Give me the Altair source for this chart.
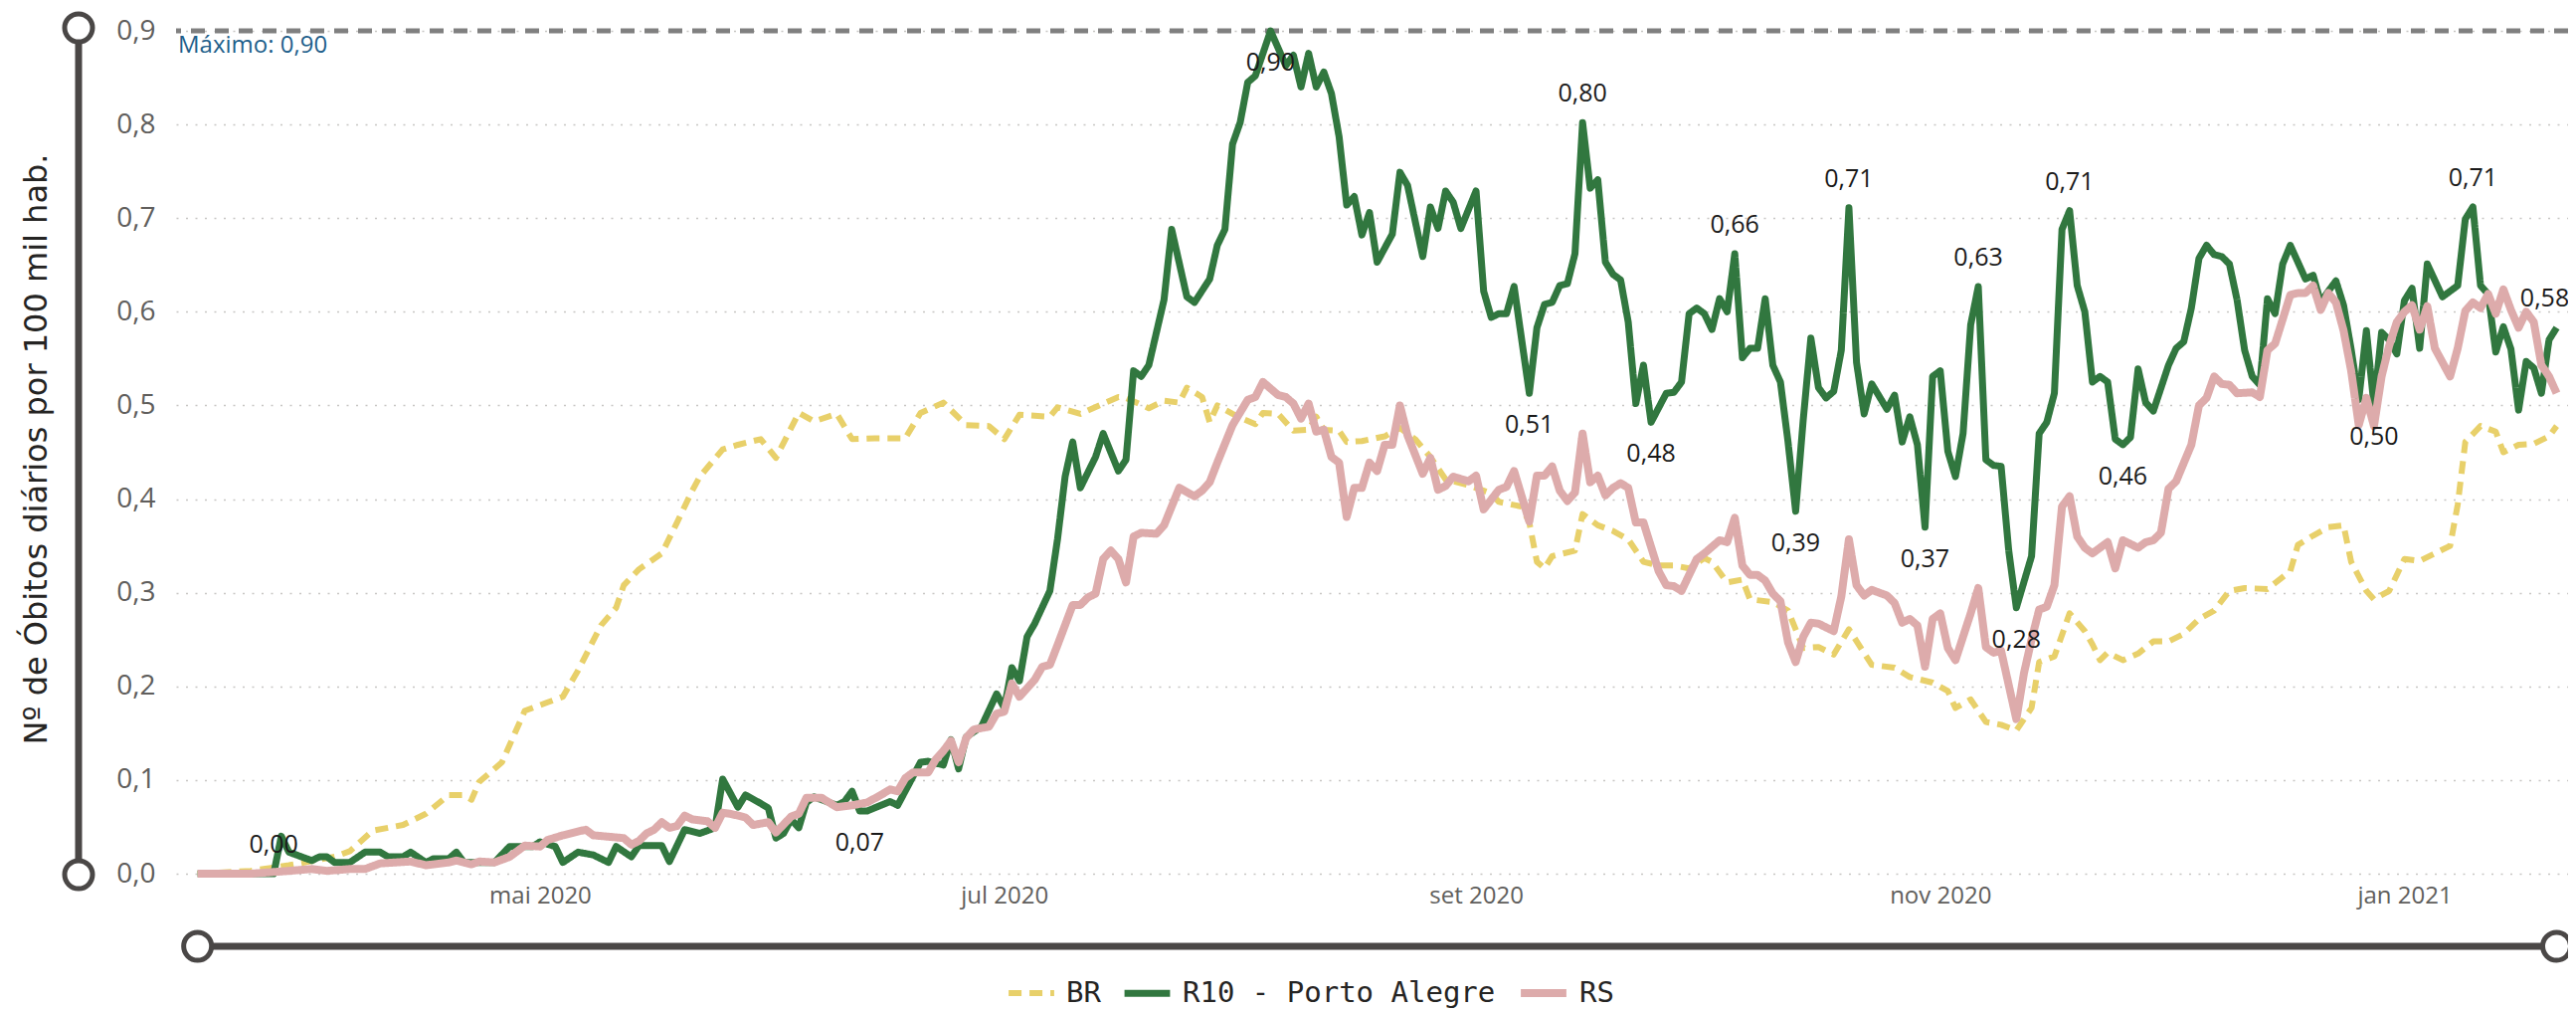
import altair as alt
import pandas as pd

START = pd.Timestamp("2020-03-17")
SERIES = ["BR", "R10 - Porto Alegre", "RS"]
COLORS = ["#E8D06A", "#31773F", "#DDABAB"]

BR_DAYS = [0, 7, 12, 18, 20, 23, 27, 30, 33, 35, 36, 37, 40, 43, 46, 48, 50, 53, 55, 56, 58, 61, 63, 65, 66, 69, 71, 74, 76, 79,
           81, 84, 86, 89, 93, 95, 98, 101, 104, 106, 108, 112, 113, 116, 119, 121, 122, 125, 127, 129, 130, 132, 133, 134, 136,
           137, 139, 140, 142, 144, 146, 147, 148, 150, 151, 153, 156, 158, 160, 162, 164, 167, 170, 171, 174, 175, 176, 177, 178,
           181, 182, 184, 186, 188, 190, 192, 194, 196, 198, 199, 201, 203, 204, 207, 209, 211, 213, 215, 217, 220, 223, 225, 228,
           230, 231, 233, 235, 237, 239, 241, 242, 244, 246, 248, 249, 250, 251, 253, 255, 257, 259, 261, 263, 265, 267, 269, 272,
           275, 276, 278, 280, 282, 283, 285, 286, 288, 290, 292, 294, 296, 297, 298, 300, 302, 303, 305, 307, 309, 310]
BR_VALS = [0.0, 0.003, 0.009, 0.018, 0.024, 0.046, 0.052, 0.064, 0.084, 0.084, 0.079, 0.098, 0.119, 0.174, 0.183, 0.189, 0.217,
           0.265, 0.284, 0.308, 0.325, 0.342, 0.375, 0.409, 0.424, 0.453, 0.458, 0.464, 0.444, 0.492, 0.483, 0.491, 0.464, 0.465,
           0.465, 0.492, 0.503, 0.479, 0.478, 0.464, 0.490, 0.488, 0.498, 0.491, 0.502, 0.509, 0.508, 0.497, 0.505, 0.503, 0.519,
           0.509, 0.482, 0.500, 0.491, 0.487, 0.480, 0.492, 0.491, 0.473, 0.474, 0.488, 0.474, 0.473, 0.461, 0.462, 0.467, 0.476,
           0.464, 0.445, 0.421, 0.415, 0.406, 0.397, 0.392, 0.375, 0.333, 0.326, 0.339, 0.345, 0.384, 0.372, 0.366, 0.357, 0.333,
           0.329, 0.329, 0.326, 0.337, 0.333, 0.311, 0.314, 0.293, 0.290, 0.281, 0.241, 0.242, 0.234, 0.261, 0.223, 0.220, 0.210,
           0.204, 0.195, 0.177, 0.186, 0.162, 0.159, 0.153, 0.177, 0.226, 0.232, 0.278, 0.259, 0.245, 0.228, 0.236, 0.228, 0.235,
           0.248, 0.248, 0.256, 0.272, 0.281, 0.302, 0.305, 0.304, 0.323, 0.351, 0.361, 0.370, 0.372, 0.333, 0.302, 0.293, 0.302,
           0.336, 0.334, 0.342, 0.350, 0.394, 0.461, 0.478, 0.472, 0.450, 0.458, 0.459, 0.467, 0.478]

R10_DAYS = [0, 7, 10, 11, 12, 15, 16, 17, 18, 20, 22, 24, 25, 27, 28, 30, 31, 33, 34, 35, 39, 41, 44, 45, 47, 48, 50, 52, 54, 55,
            57, 58, 61, 62, 64, 66, 68, 69, 71, 72, 74, 75, 76, 77, 78, 79, 80, 81, 84, 85, 86, 87, 88, 91, 92, 95, 96, 98, 99,
            100, 101, 103, 105, 106, 107, 108, 109, 110, 112, 113, 114, 115, 116, 118, 119, 121, 122, 123, 124, 125, 127, 128,
            130, 131, 133, 134, 135, 136, 137, 138, 139, 141, 143, 144, 145, 146, 147, 148, 149, 150, 151, 152, 153, 154, 155,
            157, 158, 159, 161, 162, 163, 164, 165, 166, 168, 169, 170, 171, 172, 173, 175, 176, 177, 178, 179, 180, 181, 182,
            183, 184, 185, 186, 187, 188, 189, 190, 191, 193, 194, 195, 196, 197, 198, 199, 200, 201, 202, 203, 204, 205, 206,
            207, 208, 209, 210, 211, 212, 213, 214, 215, 216, 217, 218, 219, 220, 222, 223, 224, 225, 226, 227, 228, 229, 230,
            231, 232, 233, 234, 235, 236, 237, 238, 239, 241, 242, 243, 244, 245, 246, 247, 248, 249, 250, 251, 252, 253, 254,
            255, 256, 257, 259, 260, 261, 262, 263, 264, 265, 266, 267, 268, 269, 270, 271, 272, 273, 274, 275, 277, 278, 279,
            280, 281, 282, 283, 284, 285, 286, 287, 288, 289, 290, 291, 292, 293, 295, 297, 298, 299, 300, 301, 302, 303, 304,
            305, 306, 307, 308, 309, 310]
R10_VALS = [0.0, 0.0, 0.0, 0.040, 0.023, 0.014, 0.018, 0.018, 0.012, 0.012, 0.023, 0.023, 0.018, 0.018, 0.023, 0.012, 0.016,
            0.016, 0.023, 0.012, 0.012, 0.029, 0.029, 0.034, 0.029, 0.012, 0.023, 0.020, 0.012, 0.029, 0.018, 0.030, 0.030, 0.013,
            0.047, 0.043, 0.049, 0.101, 0.071, 0.084, 0.075, 0.070, 0.038, 0.043, 0.058, 0.049, 0.076, 0.082, 0.073, 0.077, 0.088,
            0.067, 0.067, 0.077, 0.073, 0.119, 0.120, 0.116, 0.143, 0.112, 0.146, 0.157, 0.192, 0.177, 0.220, 0.206, 0.253, 0.267,
            0.302, 0.357, 0.424, 0.461, 0.412, 0.445, 0.470, 0.430, 0.442, 0.537, 0.531, 0.543, 0.613, 0.688, 0.616, 0.610, 0.635,
            0.671, 0.688, 0.779, 0.802, 0.845, 0.852, 0.900, 0.863, 0.874, 0.840, 0.876, 0.840, 0.856, 0.833, 0.787, 0.714, 0.723,
            0.682, 0.706, 0.653, 0.683, 0.749, 0.735, 0.659, 0.712, 0.689, 0.729, 0.717, 0.689, 0.729, 0.622, 0.594, 0.598, 0.598,
            0.627, 0.513, 0.583, 0.608, 0.610, 0.628, 0.630, 0.662, 0.802, 0.732, 0.741, 0.653, 0.640, 0.634, 0.589, 0.502, 0.543,
            0.482, 0.513, 0.514, 0.525, 0.598, 0.604, 0.598, 0.581, 0.614, 0.600, 0.662, 0.551, 0.561, 0.561, 0.614, 0.543, 0.525,
            0.461, 0.387, 0.485, 0.572, 0.519, 0.508, 0.515, 0.559, 0.711, 0.546, 0.491, 0.523, 0.496, 0.511, 0.461, 0.488, 0.458,
            0.370, 0.531, 0.537, 0.451, 0.424, 0.470, 0.586, 0.627, 0.442, 0.436, 0.435, 0.345, 0.284, 0.339, 0.470, 0.482, 0.513,
            0.688, 0.708, 0.628, 0.600, 0.525, 0.531, 0.525, 0.464, 0.458, 0.466, 0.539, 0.503, 0.494, 0.543, 0.561, 0.568, 0.604,
            0.657, 0.671, 0.661, 0.659, 0.651, 0.613, 0.559, 0.531, 0.522, 0.614, 0.598, 0.651, 0.671, 0.635, 0.639, 0.610, 0.622,
            0.633, 0.607, 0.560, 0.506, 0.580, 0.500, 0.578, 0.570, 0.555, 0.612, 0.625, 0.561, 0.651, 0.616, 0.628, 0.699, 0.712,
            0.628, 0.619, 0.557, 0.584, 0.560, 0.495, 0.547, 0.540, 0.513, 0.570, 0.583]

RS_DAYS = [0, 7, 12, 15, 17, 20, 22, 24, 28, 30, 33, 34, 36, 37, 39, 41, 43, 45, 46, 48, 51, 52, 56, 57, 58, 59, 60, 61, 62, 63,
           64, 65, 67, 68, 69, 70, 72, 73, 75, 76, 78, 79, 80, 82, 84, 86, 88, 90, 91, 92, 93, 94, 96, 97, 98, 99, 100, 101, 102,
           104, 105, 106, 107, 108, 110, 111, 112, 113, 115, 116, 117, 118, 119, 120, 121, 122, 123, 124, 126, 127, 129, 131,
           132, 133, 134, 136, 138, 139, 140, 142, 143, 144, 145, 146, 147, 148, 149, 150, 151, 152, 153, 154, 155, 156, 157,
           158, 159, 161, 162, 163, 164, 165, 167, 168, 169, 171, 172, 173, 175, 176, 177, 178, 179, 180, 181, 182, 183, 184,
           185, 186, 187, 188, 189, 190, 192, 193, 194, 195, 197, 198, 200, 201, 202, 203, 204, 205, 206, 207, 208, 209, 210,
           211, 212, 213, 215, 216, 217, 218, 219, 220, 222, 223, 224, 225, 226, 227, 228, 229, 230, 231, 233, 234, 235, 236,
           237, 239, 240, 241, 242, 243, 244, 245, 246, 247, 248, 249, 251, 252, 253, 255, 256, 257, 258, 259, 260, 262, 263,
           264, 265, 266, 267, 268, 270, 271, 272, 273, 275, 276, 277, 278, 279, 280, 281, 282, 283, 284, 285, 286, 287, 288,
           289, 290, 291, 292, 293, 294, 296, 297, 298, 299, 300, 301, 302, 303, 304, 305, 306, 307, 308, 309, 310]
RS_VALS = [0.0, 0.0, 0.003, 0.005, 0.003, 0.005, 0.005, 0.011, 0.013, 0.009, 0.012, 0.014, 0.010, 0.013, 0.012, 0.018, 0.030,
           0.029, 0.036, 0.041, 0.047, 0.041, 0.038, 0.031, 0.035, 0.043, 0.047, 0.055, 0.049, 0.051, 0.062, 0.058, 0.056, 0.049,
           0.065, 0.064, 0.060, 0.052, 0.055, 0.044, 0.061, 0.064, 0.081, 0.081, 0.071, 0.073, 0.076, 0.085, 0.090, 0.088, 0.102,
           0.108, 0.108, 0.122, 0.131, 0.142, 0.119, 0.145, 0.154, 0.157, 0.171, 0.173, 0.203, 0.189, 0.207, 0.221, 0.223, 0.244,
           0.287, 0.287, 0.295, 0.299, 0.336, 0.345, 0.336, 0.311, 0.360, 0.364, 0.363, 0.372, 0.412, 0.403, 0.409, 0.418, 0.439,
           0.479, 0.506, 0.509, 0.525, 0.511, 0.509, 0.502, 0.486, 0.502, 0.472, 0.474, 0.445, 0.439, 0.381, 0.412, 0.412, 0.439,
           0.430, 0.458, 0.458, 0.500, 0.468, 0.427, 0.444, 0.410, 0.414, 0.424, 0.419, 0.425, 0.389, 0.410, 0.413, 0.430, 0.376,
           0.425, 0.425, 0.435, 0.409, 0.398, 0.407, 0.470, 0.418, 0.425, 0.404, 0.412, 0.417, 0.412, 0.375, 0.375, 0.323, 0.308,
           0.307, 0.302, 0.336, 0.342, 0.356, 0.354, 0.380, 0.329, 0.319, 0.319, 0.313, 0.299, 0.291, 0.247, 0.226, 0.253, 0.268,
           0.267, 0.259, 0.296, 0.357, 0.308, 0.297, 0.303, 0.297, 0.289, 0.268, 0.272, 0.265, 0.221, 0.272, 0.278, 0.241, 0.228,
           0.278, 0.305, 0.242, 0.236, 0.238, 0.165, 0.214, 0.250, 0.282, 0.285, 0.308, 0.392, 0.403, 0.360, 0.348, 0.342, 0.354,
           0.326, 0.356, 0.348, 0.354, 0.356, 0.364, 0.411, 0.419, 0.458, 0.500, 0.508, 0.531, 0.523, 0.522, 0.513, 0.514, 0.509,
           0.559, 0.566, 0.618, 0.620, 0.620, 0.628, 0.602, 0.620, 0.610, 0.580, 0.537, 0.479, 0.508, 0.478, 0.531, 0.564, 0.589,
           0.600, 0.607, 0.581, 0.606, 0.561, 0.531, 0.561, 0.601, 0.610, 0.604, 0.619, 0.598, 0.624, 0.602, 0.583, 0.600, 0.589,
           0.543, 0.531, 0.513]

# data labels shown on the R10 series
LABEL_DAYS = [10, 87, 141, 175, 182, 191, 202, 210, 217, 227, 234, 239, 246, 253, 286, 299, 310]
LABEL_POS = ["above", "below", "below", "below", "above", "below", "above", "below", "above", "below",
             "above", "below", "above", "below", "below", "above", "end"]

Y_TICKS = [0.0, 0.1, 0.2, 0.3, 0.4, 0.5, 0.6, 0.7, 0.8, 0.9]
X_TICKS = ["2020-05-01", "2020-07-01", "2020-09-01", "2020-11-01", "2021-01-01"]
X_DOMAIN = ["2020-03-14T04:00:00", "2021-01-22T12:00:00"]


def iso(d):
    return (START + pd.Timedelta(days=d)).strftime("%Y-%m-%d")


def ms(s):
    return int(pd.Timestamp(s, tz="UTC").value // 10**6)


rows = []
for name, days, vals in [("BR", BR_DAYS, BR_VALS), ("R10 - Porto Alegre", R10_DAYS, R10_VALS), ("RS", RS_DAYS, RS_VALS)]:
    for d, v in zip(days, vals):
        rows.append({"date": iso(d), "value": v, "series": name})
df = pd.DataFrame(rows)

r10 = dict(zip(R10_DAYS, R10_VALS))
labels = pd.DataFrame({"date": [iso(d) for d in LABEL_DAYS],
                       "value": [r10[d] for d in LABEL_DAYS],
                       "pos": LABEL_POS})

MAXV = max(R10_VALS)

FONT = "Open Sans"
GRAY_TXT = "#605e5c"
DARK = "#4a4746"

X = alt.X("date:T",
          scale=alt.Scale(type="utc", domain=[ms(s) for s in X_DOMAIN]),
          axis=alt.Axis(values=[ms(s) for s in X_TICKS], title=None, grid=False,
                        labelExpr="['jan','fev','mar','abr','mai','jun','jul','ago','set','out','nov','dez'][utcmonth(datum.value)] + ' ' + utcyear(datum.value)",
                        labelFont=FONT, labelFontSize=24, labelColor=GRAY_TXT, labelPadding=10,
                        labelFlush=False, labelOverlap=False))
Y = alt.Y("value:Q",
          scale=alt.Scale(domain=[0, 0.9], nice=False, zero=True),
          axis=alt.Axis(values=Y_TICKS, labelExpr="replace(format(datum.value, '.1f'), '.', ',')",
                        labelFont=FONT, labelFontSize=28, labelColor=GRAY_TXT, labelPadding=21,
                        grid=True, gridDash=[2, 7.5], gridColor="#c8c6c4", gridWidth=1.5,
                        title="Nº de Óbitos diários por 100 mil hab.", titleFont="DejaVu Sans",
                        titleFontSize=32, titleFontWeight="normal", titleColor="#252423",
                        titleAngle=-90, titleX=-131, titleY=420, titleAlign="center",
                        titleBaseline="alphabetic"))

legend = alt.Legend(title=None, orient="none", legendX=834, legendY=940, direction="horizontal",
                    symbolType="stroke", symbolSize=2100, symbolStrokeWidth=6, labelLimit=0,
                    labelFont="DejaVu Sans Mono", labelFontSize=29, labelColor="#252423",
                    labelOffset=9, columnPadding=9)

lines = alt.Chart(df).mark_line(strokeCap="butt", strokeJoin="round").encode(
    x=X, y=Y,
    color=alt.Color("series:N", scale=alt.Scale(domain=SERIES, range=COLORS), legend=legend),
    strokeDash=alt.StrokeDash("series:N", scale=alt.Scale(domain=SERIES, range=[[13, 8], [1, 0], [1, 0]]), legend=legend),
    strokeWidth=alt.StrokeWidth("series:N", scale=alt.Scale(domain=SERIES, range=[6, 8, 6]), legend=None),
    order=alt.Order("date:T"),
)

max_df = pd.DataFrame({"m": [MAXV]})
max_rule = alt.Chart(max_df).mark_rule(color="#808080", strokeWidth=5, strokeDash=[14, 10]).encode(y=alt.Y("m:Q"))
max_text = alt.Chart(max_df).transform_calculate(
    t="'Máximo: ' + replace(format(datum.m, '.2f'), '.', ',')"
).mark_text(align="left", baseline="top", font=FONT, fontSize=24, color="#1f5f8b", dy=3).encode(
    x=alt.value(2), y=alt.Y("m:Q"), text="t:N")

lab = alt.Chart(labels).transform_calculate(t="replace(format(datum.value, '.2f'), '.', ',')")
lab_common = dict(font=FONT, fontSize=25, color="#1a1a1a", baseline="middle")
lab_above = lab.transform_filter("datum.pos == 'above'").mark_text(dy=-29, **lab_common).encode(
    x="date:T", y="value:Q", text="t:N")
lab_below = lab.transform_filter("datum.pos == 'below'").mark_text(dy=32, **lab_common).encode(
    x="date:T", y="value:Q", text="t:N")
lab_end = lab.transform_filter("datum.pos == 'end'").mark_text(dy=-29, dx=-12, **lab_common).encode(
    x="date:T", y="value:Q", text="t:N")

# slider decorations (Power BI zoom sliders)
one = pd.DataFrame({"a": [0]})
vbar = alt.Chart(one).mark_rule(color=DARK, strokeWidth=7).encode(
    x=alt.value(-98), y=alt.value(-3), y2=alt.value(848))
vknob_top = alt.Chart(one).mark_point(shape="circle", size=784, filled=True, fill="white", stroke=DARK,
                                      strokeWidth=5, opacity=1).encode(x=alt.value(-98), y=alt.value(-3))
vknob_bot = alt.Chart(one).mark_point(shape="circle", size=784, filled=True, fill="white", stroke=DARK,
                                      strokeWidth=5, opacity=1).encode(x=alt.value(-98), y=alt.value(848))
span = pd.DataFrame({"s": [iso(min(R10_DAYS))], "e": [iso(max(R10_DAYS))]})
hbar = alt.Chart(span).mark_rule(color=DARK, strokeWidth=7).encode(
    x=alt.X("s:T"), x2="e:T", y=alt.value(920))
hknob_l = alt.Chart(span).mark_point(shape="circle", size=784, filled=True, fill="white", stroke=DARK,
                                     strokeWidth=5, opacity=1).encode(x=alt.X("s:T"), y=alt.value(920))
hknob_r = alt.Chart(span).mark_point(shape="circle", size=784, filled=True, fill="white", stroke=DARK,
                                     strokeWidth=5, opacity=1).encode(x=alt.X("e:T"), y=alt.value(920))

chart = alt.layer(
    max_rule, lines, lab_above, lab_below, lab_end, max_text,
    vbar, vknob_top, vknob_bot, hbar, hknob_l, hknob_r
).properties(
    width=2405, height=847,
    autosize=alt.AutoSizeParams(type="none"),
    padding={"left": 169, "top": 23, "right": 0, "bottom": 138},
).configure_view(stroke=None).configure_axis(domain=False, ticks=False)

chart.save("out.html", embed_options={"renderer": "svg", "actions": False})
